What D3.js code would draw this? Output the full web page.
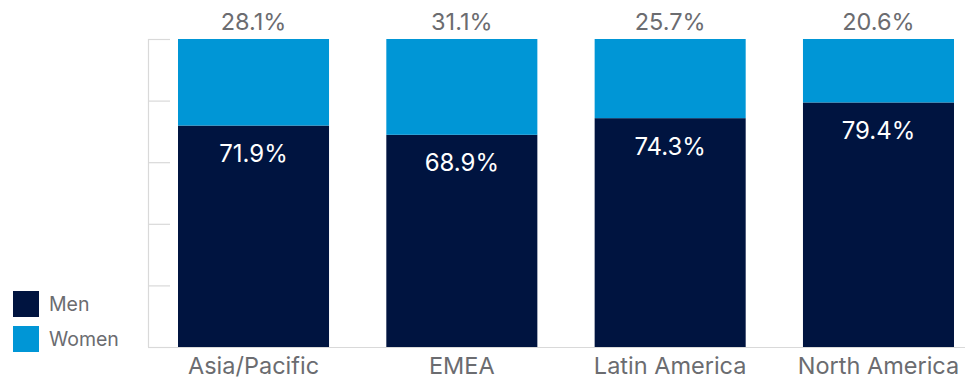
<!DOCTYPE html>
<html>
<head>
<meta charset="utf-8">
<script src="https://cdn.jsdelivr.net/npm/d3@7"></script>
<style>
  html, body { margin: 0; padding: 0; background: #fff; }
  svg { display: block; font-family: Inter, "Noto Sans", sans-serif; }
</style>
</head>
<body>
<svg id="chart" width="965" height="378"></svg>
<script>
// Share of employees by gender in each region (percent)
const regions = ["Asia/Pacific", "EMEA", "Latin America", "North America"];
const men = [71.9, 68.9, 74.3, 79.4];
const women = [28.1, 31.1, 25.7, 20.6];
const seriesNames = ["Men", "Women"];
const yTicks = [0, 20, 40, 60, 80, 100];

const colors = { Men: "#001440", Women: "#0096d6" };
const textGray = "#6b6c70";

const svg = d3.select("#chart");
const plot = { left: 148, top: 39, bottom: 347, right: 965 };

const rows = regions.map((r, i) => ({ region: r, Men: men[i], Women: women[i] }));
const stacked = d3.stack().keys(seriesNames)(rows);

const x = d3.scaleBand()
  .domain(regions)
  .range([plot.left, 984])
  .paddingInner(0.275)
  .paddingOuter(0.144);

const y = d3.scaleLinear()
  .domain([0, 100])
  .range([plot.bottom, plot.top]);

// Left axis: short tick marks only, no labels
const yAxis = d3.axisLeft(y).tickValues(yTicks).tickSize(-22).tickFormat("");
const gy = svg.append("g")
  .attr("transform", `translate(${plot.left},0)`)
  .call(yAxis);
gy.selectAll("line").attr("stroke", "#d9d9d9").attr("stroke-width", 1.2);
gy.select(".domain").attr("stroke", "#d9d9d9").attr("stroke-width", 1.2)
  .attr("d", `M0.5,${plot.top}V${plot.bottom}`);

// Baseline across the chart
svg.append("line")
  .attr("x1", plot.left).attr("x2", plot.right)
  .attr("y1", y(0) + 0.5).attr("y2", y(0) + 0.5)
  .attr("stroke", "#d9d9d9").attr("stroke-width", 1.2);

// Stacked bars
svg.append("g").selectAll("g")
  .data(stacked)
  .join("g")
  .attr("fill", d => colors[d.key])
  .selectAll("rect")
  .data(d => d)
  .join("rect")
  .attr("x", d => x(d.data.region))
  .attr("width", x.bandwidth())
  .attr("y", d => y(d[1]))
  .attr("height", d => y(d[0]) - y(d[1]));

// Men values inside the bars
svg.append("g").selectAll("text")
  .data(rows)
  .join("text")
  .attr("x", d => x(d.region) + x.bandwidth() / 2)
  .attr("y", d => y(d.Men) + 36.5)
  .attr("text-anchor", "middle")
  .attr("fill", "#fff")
  .attr("font-size", 24)
  .text(d => d.Men.toFixed(1) + "%");

// Women values above the bars
svg.append("g").selectAll("text")
  .data(rows)
  .join("text")
  .attr("x", d => x(d.region) + x.bandwidth() / 2)
  .attr("y", y(100) - 9)
  .attr("text-anchor", "middle")
  .attr("fill", textGray)
  .attr("font-size", 23.5)
  .text(d => d.Women.toFixed(1) + "%");

// Category labels
const xAxis = d3.axisBottom(x).tickSize(0).tickPadding(0);
const gx = svg.append("g")
  .attr("transform", `translate(0,${plot.bottom})`)
  .call(xAxis);
gx.select(".domain").remove();
gx.selectAll("text")
  .attr("y", 26.5)
  .attr("dy", null)
  .attr("fill", textGray)
  .attr("font-size", 23.5)
  .attr("font-family", "Inter, 'Noto Sans', sans-serif");

// Legend
const legend = svg.append("g").attr("transform", "translate(13,291)");
const items = legend.selectAll("g")
  .data(seriesNames)
  .join("g")
  .attr("transform", (d, i) => `translate(0,${i * 35})`);
items.append("rect")
  .attr("width", 26).attr("height", 26)
  .attr("fill", d => colors[d]);
items.append("text")
  .attr("x", 36).attr("y", 19.5)
  .attr("fill", textGray)
  .attr("font-size", 19.5)
  .text(d => d);
</script>
</body>
</html>
